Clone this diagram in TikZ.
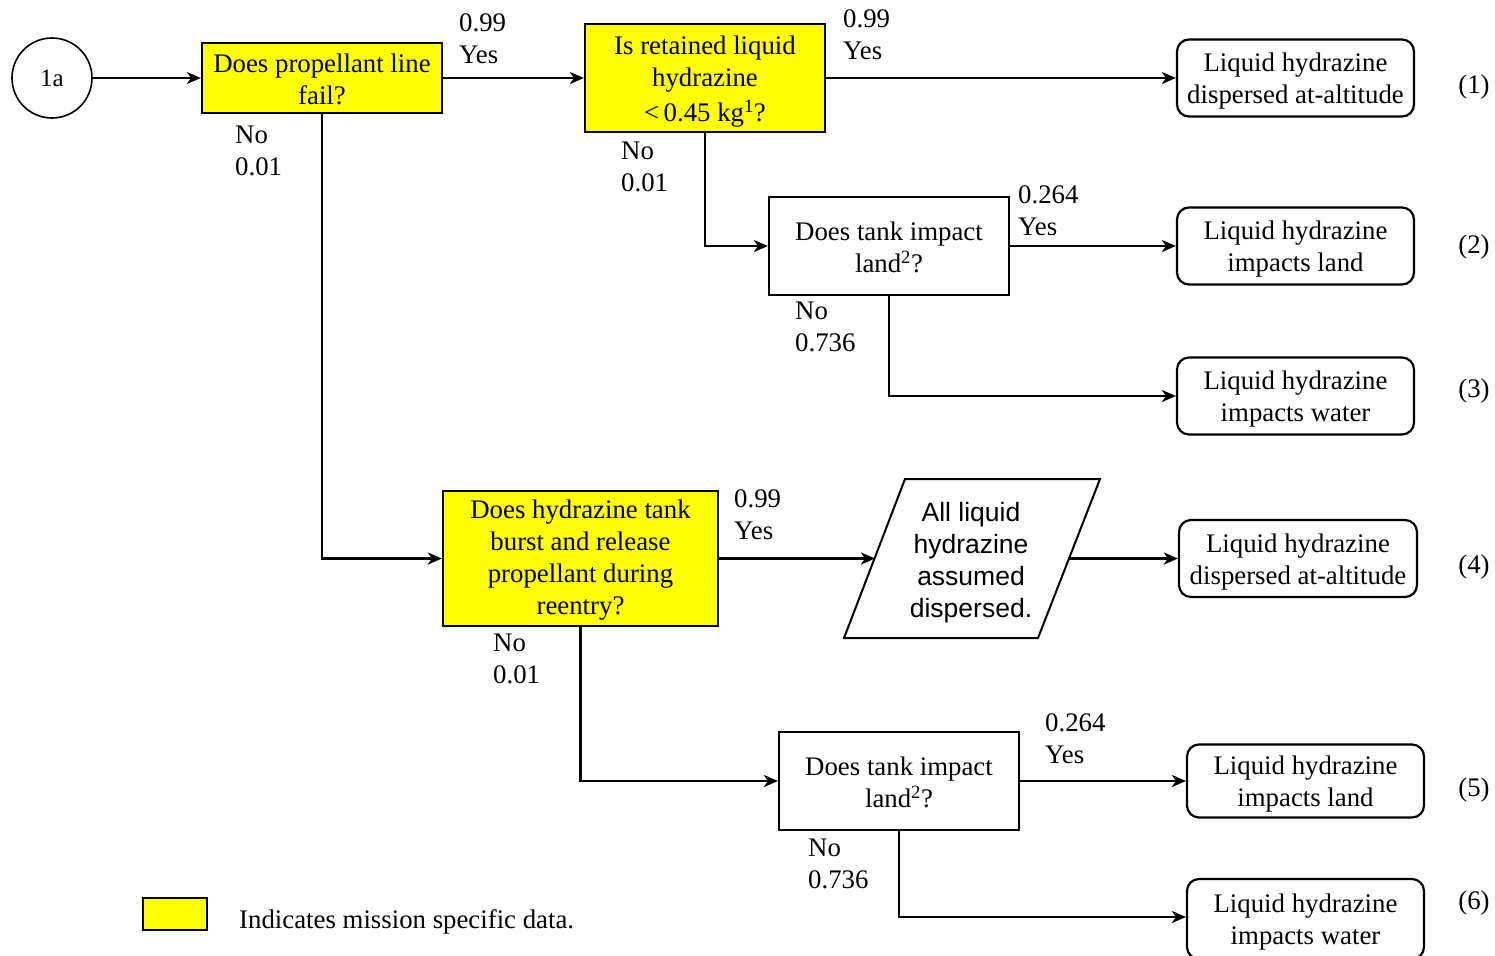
\documentclass[tikz,border=0pt]{standalone}
\usepackage{fontspec}
\setmainfont{Liberation Serif}
\newfontfamily\sansfam{Liberation Sans}
\usetikzlibrary{arrows.meta}
\definecolor{mission}{RGB}{255,255,0}
\newcommand{\topgap}{\rule{0pt}{22pt}}
\tikzset{
  every node/.style={font=\fontsize{26.8}{32}\selectfont, inner sep=0pt},
  qbox/.style={draw, line width=2.2pt, minimum width=240, align=center},
  ybox/.style={qbox, fill=mission},
  endbox/.style={draw, line width=2.2pt, rounded corners=12, minimum width=237, minimum height=77, align=center},
  prob/.style={anchor=west, align=left},
  tag/.style={anchor=center},
  link/.style={draw, line width=2.4pt, arrows={-Stealth[length=14pt,width=12pt,inset=4pt]}},
}
\begin{document}
\begin{tikzpicture}[x=1pt,y=-1pt]
\useasboundingbox (0,0) rectangle (1495,955);

% start node and decision boxes
\node[draw, circle, line width=1.6pt, minimum size=80, font=\fontsize{25}{30}\selectfont] (s) at (52,78) {1a};
\node[ybox, minimum height=70] (a) at (322,78) {\topgap Does propellant line\\fail?};
\node[ybox, minimum height=108] (b) at (705,78) {\rule{0pt}{26pt}Is retained liquid\\hydrazine\\[3pt]{<}\,0.45 kg\textsuperscript{1}?};
\node[qbox, minimum height=98] (c) at (889,246) {\topgap Does tank impact\\land\textsuperscript{2}?};
\node[ybox, minimum width=275, minimum height=135] (d) at (580.5,558.5) {\topgap Does hydrazine tank\\burst and release\\propellant during\\reentry?};
\node[qbox, minimum height=98] (e) at (899,781) {\topgap Does tank impact\\land\textsuperscript{2}?};

% process step (parallelogram)
\coordinate (p1) at (905,479);
\coordinate (p2) at (1100,479);
\coordinate (p3) at (1038,638);
\coordinate (p4) at (844,638);
\draw[line width=2pt, line join=miter] (p1) -- (p2) -- (p3) -- (p4) -- cycle;
\node[align=center, font=\sansfam\fontsize{26.5}{32}\selectfont] (p) at (971,563) {All liquid\\hydrazine\\assumed\\dispersed.};
\coordinate (pin) at (875,558.5);
\coordinate (pout) at (1069,558.5);

% outcomes
\node[endbox] (o1) at (1295.5,78) {\rule{0pt}{25pt}Liquid hydrazine\\dispersed at-altitude};
\node[endbox] (o2) at (1295.5,246) {\rule{0pt}{25pt}Liquid hydrazine\\impacts land};
\node[endbox] (o3) at (1295.5,396) {\rule{0pt}{25pt}Liquid hydrazine\\impacts water};
\node[endbox, minimum width=238] (o4) at (1298,558.5) {\rule{0pt}{25pt}Liquid hydrazine\\dispersed at-altitude};
\node[endbox, minimum height=73] (o5) at (1305.5,781) {\rule{0pt}{25pt}Liquid hydrazine\\impacts land};
\node[endbox, minimum height=80] (o6) at (1305.5,919) {\rule{0pt}{25pt}Liquid hydrazine\\impacts water};

\node[tag] (t1) at (1474,87) {(1)};
\node[tag] (t2) at (1474,247) {(2)};
\node[tag] (t3) at (1474,391) {(3)};
\node[tag] (t4) at (1474,567) {(4)};
\node[tag] (t5) at (1474,790) {(5)};
\node[tag] (t6) at (1474,903) {(6)};

% connectors
\path[link] (s) -- (a);
\path[link] (a) -- (b);
\path[link] (b.east) -- (b.east -| o1.west);
\path[link] (b.south) |- (c.west);
\path[link] (c.east) -- (c.east -| o2.west);
\path[link] (c.south) |- (o3.west);
\path[link] (a.south) |- (d.west);
\path[link] (d.east) -- (pin);
\path[link] (pout) -- (pout -| o4.west);
\path[link] (d.south) |- (e.west);
\path[link] (e.east) -- (e.east -| o5.west);
\path[link] (e.south) |- (e.south |- 0,917) -- (o6.west |- 0,917);

% branch probabilities
\node[prob] (l1) at (459,39) {0.99\\Yes};
\node[prob] (l2) at (235,151) {No\\0.01};
\node[prob] (l3) at (843,35) {0.99\\Yes};
\node[prob] (l4) at (621,167) {No\\0.01};
\node[prob] (l5) at (1018,211) {0.264\\Yes};
\node[prob] (l6) at (795,327) {No\\0.736};
\node[prob] (l7) at (734,515) {0.99\\Yes};
\node[prob] (l8) at (493,659) {No\\0.01};
\node[prob] (l9) at (1045,739) {0.264\\Yes};
\node[prob] (l10) at (808,864) {No\\0.736};

% legend
\node[draw, line width=1.8pt, fill=mission, minimum width=64, minimum height=32] (key) at (175,914) {};
\node[anchor=west] (keytext) at (239,922) {Indicates mission specific data.};
\end{tikzpicture}
\end{document}
